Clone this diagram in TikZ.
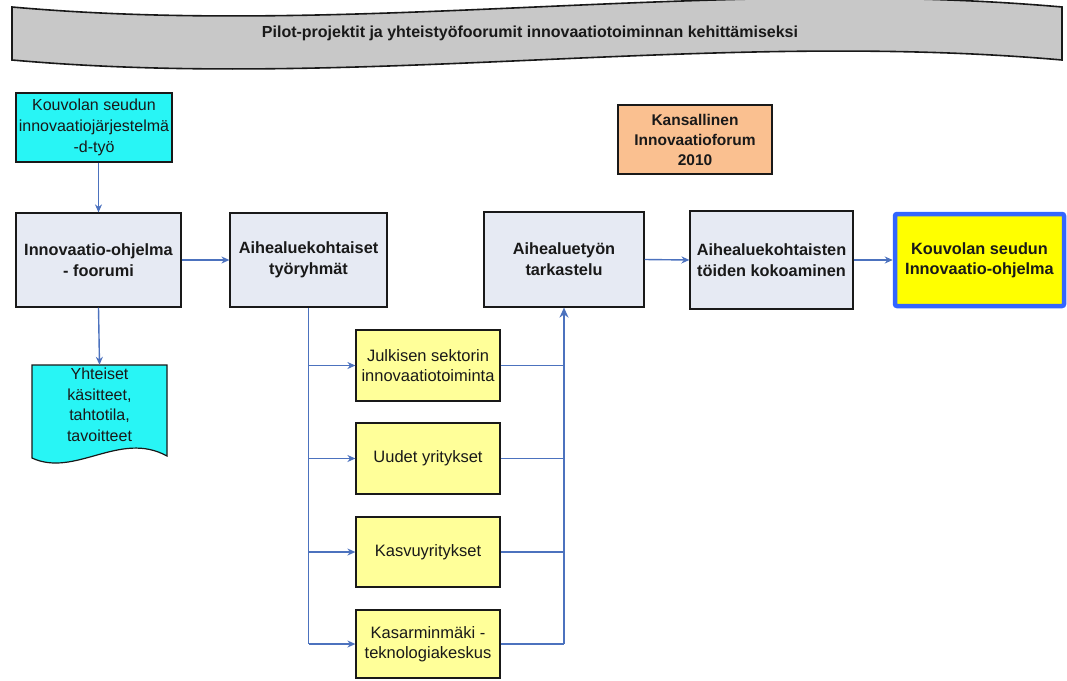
\documentclass[tikz,border=0pt]{standalone}
\usepackage{fontspec}
\setmainfont{Liberation Sans}
\usetikzlibrary{arrows.meta}

\definecolor{boxgray}{RGB}{230,234,243}
\definecolor{boxcyan}{RGB}{40,245,245}
\definecolor{boxyellow}{RGB}{255,255,153}
\definecolor{boxorange}{RGB}{250,192,144}
\definecolor{goalyellow}{RGB}{255,255,0}
\definecolor{goalblue}{RGB}{51,102,255}
\definecolor{linkblue}{RGB}{76,114,190}
\definecolor{bannergray}{RGB}{200,200,200}
\definecolor{inkdark}{RGB}{25,25,25}

\tikzset{
  x=1pt, y=-1pt,
  box/.style={draw=inkdark, line width=1.2pt, align=center, text=inkdark,
    inner sep=2pt},
  stepbold/.style={box, fill=boxgray, font=\fontsize{16.3}{21}\selectfont\bfseries},
  srcbox/.style={box, fill=boxcyan, font=\fontsize{16}{21}\selectfont},
  topicbox/.style={box, fill=boxyellow, font=\fontsize{16.5}{20}\selectfont},
  eventbox/.style={box, fill=boxorange, font=\fontsize{15.5}{20}\selectfont\bfseries},
  goalbox/.style={draw=goalblue, line width=4.5pt, rounded corners=2pt, fill=goalyellow,
    align=center, text=inkdark, font=\fontsize{16.3}{20}\selectfont\bfseries},
  conn/.style={draw=linkblue, line width=1.4pt},
  arr/.style={conn, -{Stealth[length=8pt,width=7pt]}},
  arrstrong/.style={draw=linkblue, line width=2.2pt, -{Stealth[length=10pt,width=9pt]}},
}

\begin{document}
\begin{tikzpicture}
\useasboundingbox (0,0) rectangle (1067,680);

% wavy title banner
\draw[fill=bannergray, draw=inkdark, line width=1.6pt]
  (12,7) .. controls (360,38) and (710,-24) .. (1062,7)
  -- (1062,60) .. controls (710,29) and (360,91) .. (12,60) -- cycle;
\node[font=\fontsize{16}{19}\selectfont\bfseries, text=inkdark] (title) at (530,33)
  {Pilot-projektit ja yhteistyöfoorumit innovaatiotoiminnan kehittämiseksi};

% main flow
\node[srcbox, minimum width=156pt, minimum height=69pt] (src) at (94,127.5)
  {Kouvolan seudun\\innovaatiojärjestelmä\\-d-työ};
\node[stepbold, minimum width=165pt, minimum height=94pt] (forum) at (98.5,260)
  {Innovaatio-ohjelma\\- foorumi};
\node[stepbold, minimum width=157pt, minimum height=94pt] (groups) at (308.5,260)
  {Aihealuekohtaiset\\työryhmät};
\node[stepbold, minimum width=160pt, minimum height=95pt] (review) at (564,259.5)
  {Aihealuetyön\\tarkastelu};
\node[stepbold, minimum width=163pt, minimum height=98pt] (compile) at (771.5,260)
  {Aihealuekohtaisten\\töiden kokoaminen};
\node[goalbox, minimum width=169pt, minimum height=92pt] (goal) at (979.5,260)
  {Kouvolan seudun\\Innovaatio-ohjelma};
\node[eventbox, minimum width=154pt, minimum height=69pt] (forum2010) at (695,139.5)
  {Kansallinen\\Innovaatioforum\\2010};

% document shape with shared outcomes
\draw[fill=boxcyan, draw=inkdark, line width=1.2pt]
  (32,365) -- (167,365) -- (167,456)
  .. controls (120,430) and (75,478) .. (32,458) -- cycle;
\node[font=\fontsize{16}{20.5}\selectfont, text=inkdark, align=center,
  minimum width=135pt, minimum height=80pt, inner sep=0pt] (doc) at (99.5,405)
  {Yhteiset\\käsitteet,\\tahtotila,\\tavoitteet};

% topic working groups
\node[topicbox, minimum width=144pt, minimum height=71pt] (j1) at (428,365.5)
  {Julkisen sektorin\\innovaatiotoiminta};
\node[topicbox, minimum width=144pt, minimum height=71pt] (j2) at (428,458.5)
  {Uudet yritykset};
\node[topicbox, minimum width=144pt, minimum height=70pt] (j3) at (428,552)
  {Kasvuyritykset};
\node[topicbox, minimum width=144pt, minimum height=68pt] (j4) at (428,644)
  {Kasarminmäki -\\teknologiakeskus};

% connectors
\draw[arr] (src.south -| forum.north) -- (forum.north);
\draw[arr] (forum.south) -- (doc.north);
\draw[arr] (forum.east) -- (groups.west);
\draw[arr] (review.east) -- (compile.west);
\draw[arr] (compile.east) -- (goal.west);

\draw[conn] (groups.south) -- (groups.south |- j4.west);
\foreach \t in {j1,j2,j3,j4}{
  \draw[arr] (groups.south |- \t.west) -- (\t.west);
  \draw[conn] (\t.east) -- (review.south |- \t.east);
}
\draw[arrstrong] (review.south |- j4.east) -- (review.south);
\end{tikzpicture}
\end{document}
